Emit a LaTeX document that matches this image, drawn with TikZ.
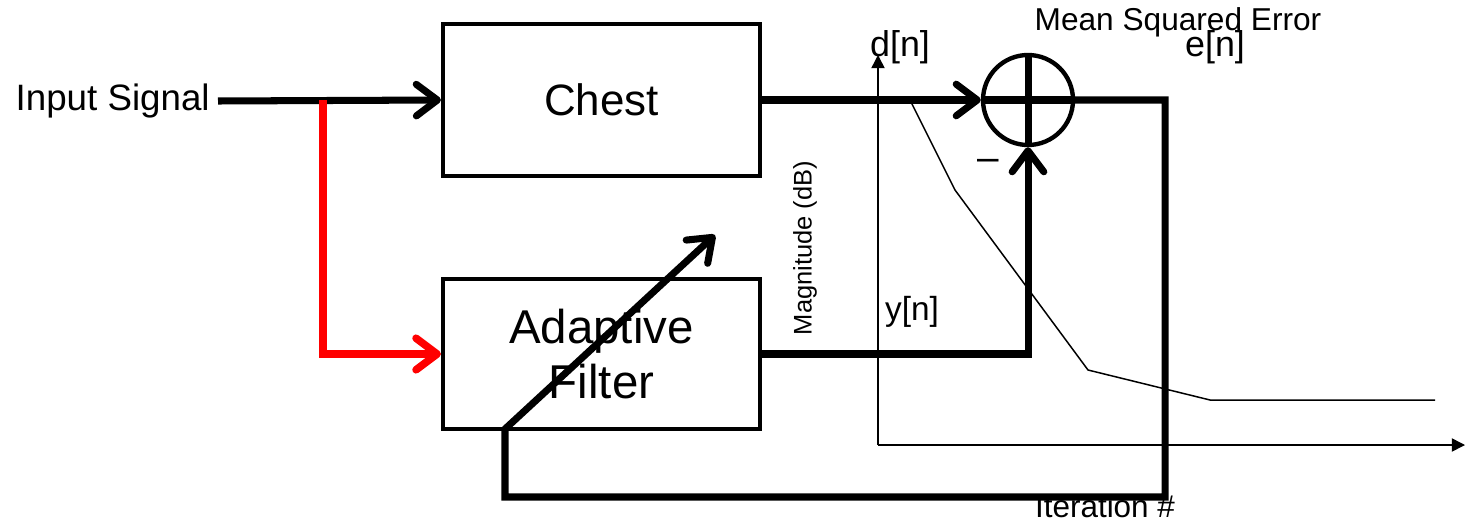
\documentclass[tikz,border=0pt]{standalone}
\usepackage{fontspec}
\setmainfont{Liberation Sans}
\usetikzlibrary{arrows.meta}
\definecolor{SigRed}{HTML}{FF0000}

\begin{document}
\begin{tikzpicture}[>={Straight Barb[length=12pt,width=18pt,round]},
  block/.style={draw, line width=2.4pt, minimum width=6.34cm, align=center, inner sep=0pt},
  summer/.style={draw, circle, line width=2.5pt, minimum size=1.8cm, inner sep=0pt},
  sig/.style={line width=4pt},
  arr/.style={->, line width=4pt},
  redarr/.style={->, line width=4.3pt, SigRed},
  axis/.style={-{Triangle[length=7.5pt,width=7.5pt]}, line width=0.85pt},
  curve/.style={line width=0.85pt},
  lbl/.style={inner sep=0pt, align=center}]
\useasboundingbox (0,0) rectangle (29.36,10.38);
\node[lbl, anchor=east, font=\fontsize{20.9}{24}\selectfont] (input) at (4.2,8.36) {Input Signal};
\node[block, minimum height=3.04cm, font=\fontsize{25}{29}\selectfont] (chest) at (12.03,8.38) {Chest};
\node[block, minimum height=3.0cm, font=\fontsize{27}{31}\selectfont] (filter) at (12.03,3.3) {Adaptive\\Filter};
\node[summer] (sum) at (20.56,8.38) {};
\node[lbl, font=\fontsize{22}{24}\selectfont] (minus) at (19.76,7.08) {\textendash};
\coordinate (split) at (6.46,8.38);
\coordinate (fbtop) at (23.3,8.38);
\coordinate (fbbot) at (23.3,0.44);
\coordinate (fbleft) at (10.1,0.44);
\coordinate (tune) at (10.1,1.8);
\coordinate (tunetip) at (14.3,5.68);
\coordinate (origin) at (17.56,1.48);
\coordinate (ytop) at (17.56,9.28);
\coordinate (xend) at (29.3,1.48);
\draw[axis] (origin) -- (ytop);
\draw[axis] (origin) -- (xend);
\draw[curve] (18.2,8.38) -- (19.1,6.58) -- (21.76,2.98) -- (24.2,2.38) -- (28.7,2.38);
\node[lbl, font=\fontsize{14.5}{16}\selectfont, rotate=90] (ylab) at (16.1,5.42) {Magnitude (dB)};
\node[lbl, font=\fontsize{17.9}{20}\selectfont] (xlab) at (22.1,0.26) {Iteration \#};
\node[lbl, font=\fontsize{18}{20}\selectfont] (title) at (23.56,9.94) {Mean Squared Error};
\node[lbl, font=\fontsize{20.4}{22}\selectfont] (dn) at (18.0,9.44) {d[n]};
\node[lbl, font=\fontsize{20.4}{22}\selectfont] (en) at (24.3,9.44) {e[n]};
\node[lbl, font=\fontsize{19}{21}\selectfont] (yn) at (18.24,4.14) {y[n]};
\draw[sig] (sum.north) -- (sum.south);
\draw[sig] (sum.west) -- (sum.east);
\draw[arr] (input.east) ++(0.16,0) -- (chest.west);
\draw[redarr] (split) |- (filter.west);
\draw[arr] (chest.east) -- (sum.west);
\draw[arr] (filter.east) -| (sum.south);
\draw[arr] (sum.east) -- (fbtop) -- (fbbot) -- (fbleft) -- (tune) -- (tunetip);
\end{tikzpicture}
\end{document}
